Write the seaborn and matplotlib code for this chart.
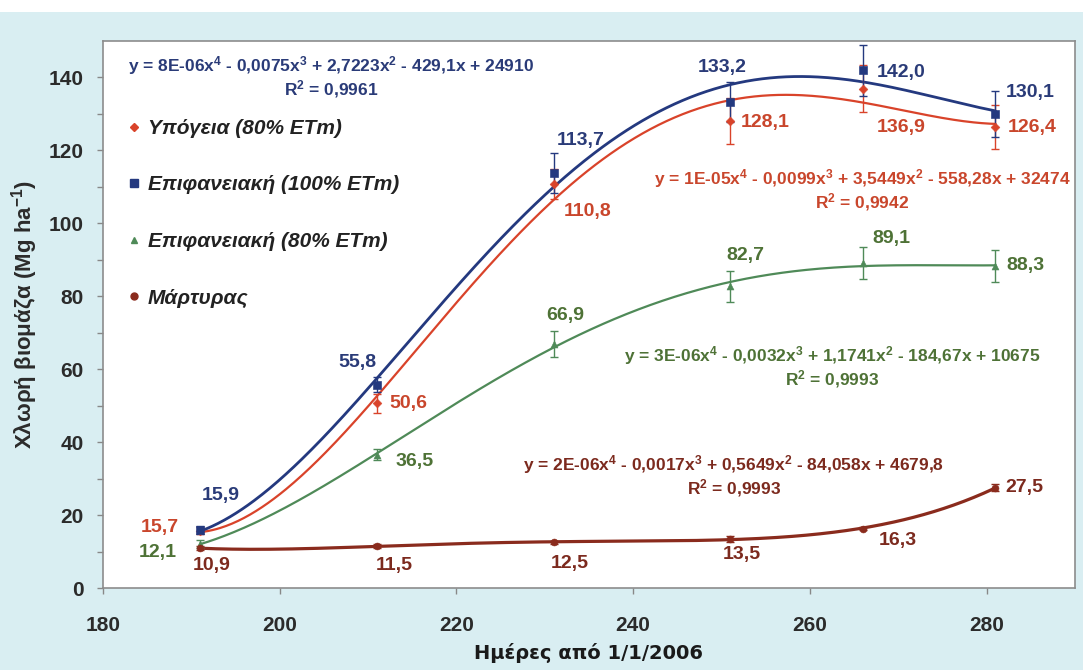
import numpy as np
import matplotlib
matplotlib.use("Agg")
import matplotlib.pyplot as plt
from matplotlib.lines import Line2D
from matplotlib.patches import Rectangle
import seaborn as sns

# ---------------- data ----------------
days = [191, 211, 231, 251, 266, 281]
ypogeia_80 = [15.7, 50.6, 110.8, 128.1, 136.9, 126.4]
epif_100 = [15.9, 55.8, 113.7, 133.2, 142.0, 130.1]
epif_80 = [12.1, 36.5, 66.9, 82.7, 89.1, 88.3]
martyras = [10.9, 11.5, 12.5, 13.5, 16.3, 27.5]

err_ypogeia_80 = [1.0, 2.5, 4.0, 6.3, 6.5, 6.0]
err_epif_100 = [1.0, 2.0, 5.5, 5.5, 7.0, 6.3]
err_epif_80 = [1.0, 1.5, 3.5, 4.2, 4.3, 4.3]
err_martyras = [0.5, 0.5, 0.5, 0.8, 0.5, 1.0]

series_names = ["Υπόγεια (80% ETm)", "Επιφανειακή (100% ETm)",
                "Επιφανειακή (80% ETm)", "Μάρτυρας"]

label_texts_ypogeia = ["15,7", "50,6", "110,8", "128,1", "136,9", "126,4"]
label_texts_epif100 = ["15,9", "55,8", "113,7", "133,2", "142,0", "130,1"]
label_texts_epif80 = ["12,1", "36,5", "66,9", "82,7", "89,1", "88,3"]
label_texts_martyras = ["10,9", "11,5", "12,5", "13,5", "16,3", "27,5"]

eq_epif100 = r"y = 8E-06x$^{4}$ - 0,0075x$^{3}$ + 2,7223x$^{2}$ - 429,1x + 24910" + "\n" + r"R$^{2}$ = 0,9961"
eq_ypogeia = r"y = 1E-05x$^{4}$ - 0,0099x$^{3}$ + 3,5449x$^{2}$ - 558,28x + 32474" + "\n" + r"R$^{2}$ = 0,9942"
eq_epif80 = r"y = 3E-06x$^{4}$ - 0,0032x$^{3}$ + 1,1741x$^{2}$ - 184,67x + 10675" + "\n" + r"R$^{2}$ = 0,9993"
eq_martyras = r"y = 2E-06x$^{4}$ - 0,0017x$^{3}$ + 0,5649x$^{2}$ - 84,058x + 4679,8" + "\n" + r"R$^{2}$ = 0,9993"

x_ticks = [180, 200, 220, 240, 260, 280]
y_ticks = [0, 20, 40, 60, 80, 100, 120, 140]
x_label = "Ημέρες από 1/1/2006"
y_label = r"Χλωρή βιομάζα (Mg ha$^{-1}$)"

# ---------------- style ----------------
sns.set_theme(style="white")
plt.rcParams["font.family"] = ["Liberation Sans", "DejaVu Sans"]
plt.rcParams["mathtext.fontset"] = "custom"
plt.rcParams["mathtext.rm"] = "Liberation Sans:bold"
plt.rcParams["mathtext.it"] = "Liberation Sans:bold"
plt.rcParams["mathtext.bf"] = "Liberation Sans:bold"
plt.rcParams["mathtext.default"] = "rm"

C_BLUE = "#24397f"
C_RED = "#d9432a"
C_GREEN = "#4f8a58"
C_BROWN = "#8a2b1d"
T_BLUE = "#2a3b78"
T_RED = "#c9462c"
T_GREEN = "#4e7236"
T_BROWN = "#7c2a1e"

W, H = 1083, 670
fig = plt.figure(figsize=(W / 100, H / 100), dpi=100)
fig.patch.set_facecolor("#d9eef2")
fig.patches.append(Rectangle((0, (H - 12) / H), 1, 12 / H, transform=fig.transFigure,
                             facecolor="white", edgecolor="none", zorder=0))
ax = fig.add_axes([103 / W, (H - 588) / H, (1075 - 103) / W, (588 - 41) / H])
ax.set_facecolor("white")

xs = np.linspace(days[0], days[-1], 400)
specs = [
    (ypogeia_80, err_ypogeia_80, C_RED, T_RED, "D", 4.5, 1.6, label_texts_ypogeia,
     [(-40, -3), (31, 0), (34, 28), (35, 2), (38, 39), (37, 0)]),
    (epif_100, err_epif_100, C_BLUE, T_BLUE, "s", 5.5, 2.0, label_texts_epif100,
     [(21, -35), (-19, -22), (27, -33), (-8, -35), (38, 2), (35, -21)]),
    (epif_80, err_epif_80, C_GREEN, T_GREEN, "^", 5, 1.6, label_texts_epif80,
     [(-42, 9), (38, 7), (12, -29), (15, -31), (28, -25), (30, 0)]),
    (martyras, err_martyras, C_BROWN, T_BROWN, "o", 5, 2.3, label_texts_martyras,
     [(11, 17), (17, 19), (16, 21), (11, 16), (35, 12), (29, 0)]),
]

for vals, errs, col, tcol, mk, ms, lw, labs, offs in specs:
    poly = np.polynomial.Polynomial.fit(days, vals, 4)
    sns.lineplot(x=xs, y=poly(xs), color=col, lw=lw, ax=ax, zorder=3)
    ax.errorbar(days, vals, yerr=errs, fmt="none", ecolor=col, elinewidth=1.0,
                capsize=3, capthick=1.0, zorder=4)
    sns.scatterplot(x=days, y=vals, color=col, marker=mk, s=ms ** 2,
                    edgecolor=col, ax=ax, zorder=5)
    for xv, yv, t, (dx, dy) in zip(days, vals, labs, offs):
        ax.annotate(t, (xv, yv), xytext=(dx, -dy), textcoords="offset pixels",
                    ha="center", va="center", fontsize=14, fontweight="bold",
                    color=tcol, zorder=6)

# equations (positions in axes fraction from pixel layout)
def px2ax(px, py):
    return ((px - 103) / (1075 - 103), (588 - py) / (588 - 41))

for eq, col, (px, py) in [(eq_epif100, T_BLUE, (331, 77)), (eq_ypogeia, T_RED, (862, 190)),
                          (eq_epif80, T_GREEN, (832, 367)), (eq_martyras, T_BROWN, (734, 476))]:
    ax.text(*px2ax(px, py), eq, transform=ax.transAxes, ha="center", va="center",
            multialignment="center", fontsize=12.5, fontweight="bold", color=col,
            linespacing=1.1, zorder=6)

# legend
handles = [
    Line2D([], [], ls="none", marker="D", ms=4, color=C_RED),
    Line2D([], [], ls="none", marker="s", ms=5.5, color=C_BLUE),
    Line2D([], [], ls="none", marker="^", ms=5, color=C_GREEN),
    Line2D([], [], ls="none", marker="o", ms=5, color=C_BROWN),
]
leg = ax.legend(handles, series_names, loc="upper left", bbox_to_anchor=px2ax(129, 119),
                frameon=False, borderpad=0, borderaxespad=0, handlelength=0.5,
                handletextpad=0.4, labelspacing=1.8,
                prop={"family": "Liberation Sans", "weight": "bold", "style": "italic", "size": 15})
for t in leg.get_texts():
    t.set_color("#222222")

# axes
ax.set_xlim(180, 290)
ax.set_ylim(0, 150)
ax.set_xticks(x_ticks)
ax.set_yticks(y_ticks)
ax.set_yticks(np.arange(10, 150, 20), minor=True)
ax.tick_params(axis="both", which="both", direction="out", length=4, width=1,
               color="#888888", labelsize=15, labelcolor="#2b2b2b")
ax.tick_params(axis="y", which="both", left=True, pad=10)
ax.tick_params(axis="x", which="major", bottom=True, pad=16)
for lab in ax.get_xticklabels() + ax.get_yticklabels():
    lab.set_fontweight("bold")
for s in ax.spines.values():
    s.set_visible(True)
    s.set_color("#8c8c8c")
    s.set_linewidth(1.2)
ax.grid(False)

ax.set_ylabel(y_label, fontsize=16, fontweight="bold", color="#2b2b2b")
ax.yaxis.set_label_coords(-(103 - 40) / (1075 - 103), 0.5)
ax.set_xlabel(x_label, fontsize=14, fontweight="bold", color="#1a1a1a",
              family=["DejaVu Sans"])
ax.xaxis.set_label_coords(0.5, -(643 - 588) / (588 - 41))

fig.savefig("out.png", dpi=100, facecolor=fig.get_facecolor())
